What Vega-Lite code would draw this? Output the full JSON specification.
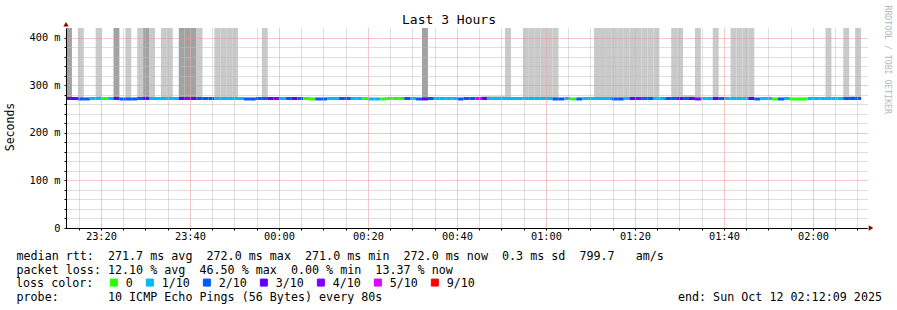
{
"$schema": "https://vega.github.io/schema/vega-lite/v6.json",
"width": 801, "height": 200,
"autosize": {"type": "none"},
"padding": {"left": 66, "top": 28, "right": 30, "bottom": 82},
"background": "#ffffff",
"config": {"view": {"stroke": null}, "font": "DejaVu Sans Mono"},
"datasets": {
"slots": [
{"t":1760224329000,"t2":1760224409000,"med":272,"loss":"3/10"},
{"t":1760224409000,"t2":1760224489000,"med":272,"loss":"3/10"},
{"t":1760224489000,"t2":1760224569000,"med":271,"loss":"2/10"},
{"t":1760224569000,"t2":1760224649000,"med":271,"loss":"2/10"},
{"t":1760224649000,"t2":1760224729000,"med":272,"loss":"1/10"},
{"t":1760224729000,"t2":1760224809000,"med":272,"loss":"1/10"},
{"t":1760224809000,"t2":1760224889000,"med":272,"loss":"0"},
{"t":1760224889000,"t2":1760224969000,"med":272,"loss":"1/10"},
{"t":1760224969000,"t2":1760225049000,"med":272,"loss":"3/10"},
{"t":1760225049000,"t2":1760225129000,"med":271,"loss":"2/10"},
{"t":1760225129000,"t2":1760225209000,"med":271,"loss":"2/10"},
{"t":1760225209000,"t2":1760225289000,"med":271,"loss":"2/10"},
{"t":1760225289000,"t2":1760225369000,"med":272,"loss":"2/10"},
{"t":1760225369000,"t2":1760225449000,"med":272,"loss":"3/10"},
{"t":1760225449000,"t2":1760225529000,"med":272,"loss":"1/10"},
{"t":1760225529000,"t2":1760225609000,"med":272,"loss":"1/10"},
{"t":1760225609000,"t2":1760225689000,"med":272,"loss":"1/10"},
{"t":1760225689000,"t2":1760225769000,"med":272,"loss":"1/10"},
{"t":1760225769000,"t2":1760225849000,"med":272,"loss":"1/10"},
{"t":1760225849000,"t2":1760225929000,"med":272,"loss":"3/10"},
{"t":1760225929000,"t2":1760226009000,"med":272,"loss":"4/10"},
{"t":1760226009000,"t2":1760226089000,"med":272,"loss":"3/10"},
{"t":1760226089000,"t2":1760226169000,"med":272,"loss":"2/10"},
{"t":1760226169000,"t2":1760226249000,"med":272,"loss":"2/10"},
{"t":1760226249000,"t2":1760226329000,"med":272,"loss":"2/10"},
{"t":1760226329000,"t2":1760226409000,"med":272,"loss":"1/10"},
{"t":1760226409000,"t2":1760226489000,"med":272,"loss":"1/10"},
{"t":1760226489000,"t2":1760226569000,"med":272,"loss":"1/10"},
{"t":1760226569000,"t2":1760226649000,"med":272,"loss":"1/10"},
{"t":1760226649000,"t2":1760226729000,"med":272,"loss":"1/10"},
{"t":1760226729000,"t2":1760226809000,"med":271,"loss":"2/10"},
{"t":1760226809000,"t2":1760226889000,"med":271,"loss":"2/10"},
{"t":1760226889000,"t2":1760226969000,"med":272,"loss":"2/10"},
{"t":1760226969000,"t2":1760227049000,"med":272,"loss":"2/10"},
{"t":1760227049000,"t2":1760227129000,"med":272,"loss":"3/10"},
{"t":1760227129000,"t2":1760227209000,"med":272,"loss":"4/10"},
{"t":1760227209000,"t2":1760227289000,"med":272,"loss":"1/10"},
{"t":1760227289000,"t2":1760227369000,"med":272,"loss":"2/10"},
{"t":1760227369000,"t2":1760227449000,"med":272,"loss":"3/10"},
{"t":1760227449000,"t2":1760227529000,"med":272,"loss":"2/10"},
{"t":1760227529000,"t2":1760227609000,"med":272,"loss":"0"},
{"t":1760227609000,"t2":1760227689000,"med":271,"loss":"0"},
{"t":1760227689000,"t2":1760227769000,"med":271,"loss":"2/10"},
{"t":1760227769000,"t2":1760227849000,"med":271,"loss":"2/10"},
{"t":1760227849000,"t2":1760227929000,"med":272,"loss":"1/10"},
{"t":1760227929000,"t2":1760228009000,"med":272,"loss":"1/10"},
{"t":1760228009000,"t2":1760228089000,"med":272,"loss":"2/10"},
{"t":1760228089000,"t2":1760228169000,"med":272,"loss":"2/10"},
{"t":1760228169000,"t2":1760228249000,"med":272,"loss":"1/10"},
{"t":1760228249000,"t2":1760228329000,"med":272,"loss":"1/10"},
{"t":1760228329000,"t2":1760228409000,"med":272,"loss":"0"},
{"t":1760228409000,"t2":1760228489000,"med":271,"loss":"1/10"},
{"t":1760228489000,"t2":1760228569000,"med":271,"loss":"1/10"},
{"t":1760228569000,"t2":1760228649000,"med":271,"loss":"0"},
{"t":1760228649000,"t2":1760228729000,"med":272,"loss":"0"},
{"t":1760228729000,"t2":1760228809000,"med":272,"loss":"0"},
{"t":1760228809000,"t2":1760228889000,"med":272,"loss":"0"},
{"t":1760228889000,"t2":1760228969000,"med":272,"loss":"2/10"},
{"t":1760228969000,"t2":1760229049000,"med":272,"loss":"1/10"},
{"t":1760229049000,"t2":1760229129000,"med":271,"loss":"2/10"},
{"t":1760229129000,"t2":1760229209000,"med":271,"loss":"3/10"},
{"t":1760229209000,"t2":1760229289000,"med":272,"loss":"2/10"},
{"t":1760229289000,"t2":1760229369000,"med":272,"loss":"1/10"},
{"t":1760229369000,"t2":1760229449000,"med":272,"loss":"1/10"},
{"t":1760229449000,"t2":1760229529000,"med":272,"loss":"1/10"},
{"t":1760229529000,"t2":1760229609000,"med":272,"loss":"1/10"},
{"t":1760229609000,"t2":1760229689000,"med":271,"loss":"2/10"},
{"t":1760229689000,"t2":1760229769000,"med":272,"loss":"2/10"},
{"t":1760229769000,"t2":1760229849000,"med":272,"loss":"2/10"},
{"t":1760229849000,"t2":1760229929000,"med":272,"loss":"5/10"},
{"t":1760229929000,"t2":1760230009000,"med":272,"loss":"3/10"},
{"t":1760230009000,"t2":1760230089000,"med":272,"loss":"1/10"},
{"t":1760230089000,"t2":1760230169000,"med":272,"loss":"1/10"},
{"t":1760230169000,"t2":1760230249000,"med":272,"loss":"1/10"},
{"t":1760230249000,"t2":1760230329000,"med":272,"loss":"1/10"},
{"t":1760230329000,"t2":1760230409000,"med":272,"loss":"1/10"},
{"t":1760230409000,"t2":1760230489000,"med":272,"loss":"1/10"},
{"t":1760230489000,"t2":1760230569000,"med":272,"loss":"1/10"},
{"t":1760230569000,"t2":1760230649000,"med":272,"loss":"1/10"},
{"t":1760230649000,"t2":1760230729000,"med":272,"loss":"1/10"},
{"t":1760230729000,"t2":1760230809000,"med":272,"loss":"1/10"},
{"t":1760230809000,"t2":1760230889000,"med":272,"loss":"1/10"},
{"t":1760230889000,"t2":1760230969000,"med":271,"loss":"2/10"},
{"t":1760230969000,"t2":1760231049000,"med":271,"loss":"2/10"},
{"t":1760231049000,"t2":1760231129000,"med":272,"loss":"1/10"},
{"t":1760231129000,"t2":1760231209000,"med":271,"loss":"0"},
{"t":1760231209000,"t2":1760231289000,"med":271,"loss":"2/10"},
{"t":1760231289000,"t2":1760231369000,"med":272,"loss":"1/10"},
{"t":1760231369000,"t2":1760231449000,"med":272,"loss":"1/10"},
{"t":1760231449000,"t2":1760231529000,"med":272,"loss":"1/10"},
{"t":1760231529000,"t2":1760231609000,"med":272,"loss":"1/10"},
{"t":1760231609000,"t2":1760231689000,"med":272,"loss":"1/10"},
{"t":1760231689000,"t2":1760231769000,"med":271,"loss":"2/10"},
{"t":1760231769000,"t2":1760231849000,"med":271,"loss":"2/10"},
{"t":1760231849000,"t2":1760231929000,"med":272,"loss":"1/10"},
{"t":1760231929000,"t2":1760232009000,"med":272,"loss":"3/10"},
{"t":1760232009000,"t2":1760232089000,"med":272,"loss":"4/10"},
{"t":1760232089000,"t2":1760232169000,"med":272,"loss":"2/10"},
{"t":1760232169000,"t2":1760232249000,"med":272,"loss":"2/10"},
{"t":1760232249000,"t2":1760232329000,"med":272,"loss":"1/10"},
{"t":1760232329000,"t2":1760232409000,"med":272,"loss":"1/10"},
{"t":1760232409000,"t2":1760232489000,"med":272,"loss":"2/10"},
{"t":1760232489000,"t2":1760232569000,"med":272,"loss":"2/10"},
{"t":1760232569000,"t2":1760232649000,"med":272,"loss":"3/10"},
{"t":1760232649000,"t2":1760232729000,"med":272,"loss":"2/10"},
{"t":1760232729000,"t2":1760232809000,"med":272,"loss":"3/10"},
{"t":1760232809000,"t2":1760232889000,"med":271,"loss":"4/10"},
{"t":1760232889000,"t2":1760232969000,"med":272,"loss":"1/10"},
{"t":1760232969000,"t2":1760233049000,"med":272,"loss":"1/10"},
{"t":1760233049000,"t2":1760233129000,"med":272,"loss":"3/10"},
{"t":1760233129000,"t2":1760233209000,"med":272,"loss":"2/10"},
{"t":1760233209000,"t2":1760233289000,"med":272,"loss":"1/10"},
{"t":1760233289000,"t2":1760233369000,"med":272,"loss":"1/10"},
{"t":1760233369000,"t2":1760233449000,"med":272,"loss":"1/10"},
{"t":1760233449000,"t2":1760233529000,"med":272,"loss":"1/10"},
{"t":1760233529000,"t2":1760233609000,"med":272,"loss":"3/10"},
{"t":1760233609000,"t2":1760233689000,"med":271,"loss":"2/10"},
{"t":1760233689000,"t2":1760233769000,"med":272,"loss":"1/10"},
{"t":1760233769000,"t2":1760233849000,"med":272,"loss":"1/10"},
{"t":1760233849000,"t2":1760233929000,"med":271,"loss":"0"},
{"t":1760233929000,"t2":1760234009000,"med":271,"loss":"2/10"},
{"t":1760234009000,"t2":1760234089000,"med":272,"loss":"1/10"},
{"t":1760234089000,"t2":1760234169000,"med":271,"loss":"0"},
{"t":1760234169000,"t2":1760234249000,"med":271,"loss":"0"},
{"t":1760234249000,"t2":1760234329000,"med":271,"loss":"0"},
{"t":1760234329000,"t2":1760234409000,"med":272,"loss":"1/10"},
{"t":1760234409000,"t2":1760234489000,"med":272,"loss":"1/10"},
{"t":1760234489000,"t2":1760234569000,"med":272,"loss":"1/10"},
{"t":1760234569000,"t2":1760234649000,"med":272,"loss":"1/10"},
{"t":1760234649000,"t2":1760234729000,"med":272,"loss":"1/10"},
{"t":1760234729000,"t2":1760234809000,"med":272,"loss":"1/10"},
{"t":1760234809000,"t2":1760234889000,"med":272,"loss":"2/10"},
{"t":1760234889000,"t2":1760234969000,"med":272,"loss":"2/10"},
{"t":1760234969000,"t2":1760235049000,"med":272,"loss":"2/10"}
],
"smoke": [
{"t":1760224329000,"t2":1760224409000,"lo":270,"hi":450,"shade":"dark"},
{"t":1760224489000,"t2":1760224569000,"lo":270,"hi":450,"shade":"light"},
{"t":1760224729000,"t2":1760224809000,"lo":270,"hi":450,"shade":"light"},
{"t":1760224969000,"t2":1760225049000,"lo":270,"hi":450,"shade":"dark"},
{"t":1760225129000,"t2":1760225209000,"lo":270,"hi":450,"shade":"light"},
{"t":1760225289000,"t2":1760225369000,"lo":270,"hi":450,"shade":"light"},
{"t":1760225369000,"t2":1760225449000,"lo":270,"hi":450,"shade":"dark"},
{"t":1760225449000,"t2":1760225529000,"lo":270,"hi":450,"shade":"light"},
{"t":1760225609000,"t2":1760225689000,"lo":270,"hi":450,"shade":"light"},
{"t":1760225689000,"t2":1760225769000,"lo":270,"hi":450,"shade":"light"},
{"t":1760225849000,"t2":1760225929000,"lo":270,"hi":450,"shade":"dark"},
{"t":1760225929000,"t2":1760226009000,"lo":270,"hi":450,"shade":"dark"},
{"t":1760226009000,"t2":1760226089000,"lo":270,"hi":450,"shade":"dark"},
{"t":1760226089000,"t2":1760226169000,"lo":270,"hi":450,"shade":"light"},
{"t":1760226329000,"t2":1760226409000,"lo":270,"hi":450,"shade":"light"},
{"t":1760226409000,"t2":1760226489000,"lo":270,"hi":450,"shade":"light"},
{"t":1760226489000,"t2":1760226569000,"lo":270,"hi":450,"shade":"light"},
{"t":1760226569000,"t2":1760226649000,"lo":270,"hi":450,"shade":"light"},
{"t":1760226969000,"t2":1760227049000,"lo":270,"hi":450,"shade":"light"},
{"t":1760229129000,"t2":1760229209000,"lo":270,"hi":450,"shade":"dark"},
{"t":1760229929000,"t2":1760230009000,"lo":270,"hi":277,"shade":"light"},
{"t":1760230009000,"t2":1760230089000,"lo":270,"hi":277,"shade":"light"},
{"t":1760230089000,"t2":1760230169000,"lo":270,"hi":277,"shade":"light"},
{"t":1760230169000,"t2":1760230249000,"lo":270,"hi":277,"shade":"light"},
{"t":1760230249000,"t2":1760230329000,"lo":270,"hi":450,"shade":"light"},
{"t":1760230489000,"t2":1760230569000,"lo":270,"hi":450,"shade":"light"},
{"t":1760230569000,"t2":1760230649000,"lo":270,"hi":450,"shade":"light"},
{"t":1760230649000,"t2":1760230729000,"lo":270,"hi":450,"shade":"light"},
{"t":1760230729000,"t2":1760230809000,"lo":270,"hi":450,"shade":"light"},
{"t":1760230809000,"t2":1760230889000,"lo":270,"hi":450,"shade":"light"},
{"t":1760230889000,"t2":1760230969000,"lo":270,"hi":450,"shade":"light"},
{"t":1760231449000,"t2":1760231529000,"lo":270,"hi":450,"shade":"light"},
{"t":1760231529000,"t2":1760231609000,"lo":270,"hi":450,"shade":"light"},
{"t":1760231609000,"t2":1760231689000,"lo":270,"hi":450,"shade":"light"},
{"t":1760231689000,"t2":1760231769000,"lo":270,"hi":450,"shade":"light"},
{"t":1760231769000,"t2":1760231849000,"lo":270,"hi":450,"shade":"light"},
{"t":1760231849000,"t2":1760231929000,"lo":270,"hi":450,"shade":"light"},
{"t":1760231929000,"t2":1760232009000,"lo":270,"hi":450,"shade":"light"},
{"t":1760232009000,"t2":1760232089000,"lo":270,"hi":450,"shade":"light"},
{"t":1760232089000,"t2":1760232169000,"lo":270,"hi":450,"shade":"light"},
{"t":1760232169000,"t2":1760232249000,"lo":270,"hi":450,"shade":"light"},
{"t":1760232249000,"t2":1760232329000,"lo":270,"hi":450,"shade":"light"},
{"t":1760232489000,"t2":1760232569000,"lo":270,"hi":450,"shade":"light"},
{"t":1760232569000,"t2":1760232649000,"lo":270,"hi":450,"shade":"light"},
{"t":1760232649000,"t2":1760232729000,"lo":270,"hi":279,"shade":"light"},
{"t":1760232729000,"t2":1760232809000,"lo":270,"hi":279,"shade":"light"},
{"t":1760232809000,"t2":1760232889000,"lo":270,"hi":450,"shade":"light"},
{"t":1760233049000,"t2":1760233129000,"lo":270,"hi":450,"shade":"light"},
{"t":1760233289000,"t2":1760233369000,"lo":270,"hi":450,"shade":"light"},
{"t":1760233369000,"t2":1760233449000,"lo":270,"hi":450,"shade":"light"},
{"t":1760233449000,"t2":1760233529000,"lo":270,"hi":450,"shade":"light"},
{"t":1760233529000,"t2":1760233609000,"lo":270,"hi":450,"shade":"light"},
{"t":1760234569000,"t2":1760234649000,"lo":270,"hi":450,"shade":"light"},
{"t":1760234809000,"t2":1760234889000,"lo":270,"hi":450,"shade":"light"},
{"t":1760234889000,"t2":1760234969000,"lo":270,"hi":277,"shade":"light"},
{"t":1760234969000,"t2":1760235049000,"lo":270,"hi":450,"shade":"light"}
]
},
"layer": [
{
"data": {"name": "smoke"},
"mark": {"type": "rect", "clip": true},
"encoding": {
"x": {"field": "t", "type": "temporal",
"scale": {"type": "utc", "domain": [1760224329000, 1760235129000], "nice": false},
"axis": {
"values": [1760224500000,1760224800000,1760225100000,1760225400000,1760225700000,1760226000000,1760226300000,1760226600000,1760226900000,1760227200000,1760227500000,1760227800000,1760228100000,1760228400000,1760228700000,1760229000000,1760229300000,1760229600000,1760229900000,1760230200000,1760230500000,1760230800000,1760231100000,1760231400000,1760231700000,1760232000000,1760232300000,1760232600000,1760232900000,1760233200000,1760233500000,1760233800000,1760234100000,1760234400000,1760234700000,1760235000000],
"labelExpr": "utcminutes(datum.value) % 20 == 0 ? utcFormat(datum.value, '%H:%M') : ''",
"labelFont": "DejaVu Sans Mono", "labelFontSize": 10.3, "labelColor": "#000000",
"labelPadding": 1.5, "labelFlush": false, "labelOverlap": false, "labelBound": false,
"tickSize": 2, "tickColor": "#000000", "domainColor": "#000000", "domainWidth": 1,
"grid": true,
"gridColor": {"condition": {"test": "utcminutes(datum.value) % 20 == 0", "value": "#ee9090"}, "value": "#bdbdbd"},
"gridDash": [1, 1], "gridWidth": 1,
"zindex": 1,
"title": [
"median rtt:\u00a0\u00a0271.7 ms avg\u00a0\u00a0272.0 ms max\u00a0\u00a0271.0 ms min\u00a0\u00a0272.0 ms now\u00a0\u00a00.3 ms sd\u00a0\u00a0799.7\u00a0\u00a0\u00a0am/s",
"packet loss: 12.10 % avg\u00a0\u00a046.50 % max\u00a0\u00a00.00 % min\u00a0\u00a013.37 % now"
],
"titleFont": "DejaVu Sans Mono", "titleFontSize": 11.7, "titleFontWeight": "normal", "titleColor": "#000000",
"titleAlign": "left", "titleAnchor": "start", "titleX": -50, "titleY": 31.8,
"titleBaseline": "alphabetic", "titleLineHeight": 13.4, "titleAngle": 0
}
},
"x2": {"field": "t2"},
"y": {"field": "lo", "type": "quantitative",
"scale": {"domain": [0, 420], "nice": false},
"axis": {
"values": [0,20,40,60,80,100,120,140,160,180,200,220,240,260,280,300,320,340,360,380,400],
"labelExpr": "datum.value == 0 ? '0' : (datum.value % 100 == 0 ? datum.value + ' m' : '')",
"labelFont": "DejaVu Sans Mono", "labelFontSize": 10.3, "labelColor": "#000000",
"labelPadding": 4, "labelOverlap": false, "labelBound": false, "labelFlush": false,
"tickSize": 2, "tickColor": "#000000", "domainColor": "#000000", "domainWidth": 1,
"grid": true,
"gridColor": {"condition": [{"test": "datum.value == 0", "value": "#000000"}, {"test": "datum.value % 100 == 0", "value": "#ee9090"}], "value": "#bdbdbd"},
"gridDash": [1, 1], "gridWidth": 1,
"zindex": 1,
"title": "Seconds",
"titleFont": "DejaVu Sans Mono", "titleFontSize": 11.5, "titleFontWeight": "normal", "titleColor": "#000000",
"titleAngle": -90, "titleX": -55.5, "titleY": 98.5, "titleAlign": "center", "titleBaseline": "middle"
}
},
"y2": {"field": "hi"},
"fill": {"field": "shade", "type": "nominal",
"scale": {"domain": ["light", "dark"], "range": ["#cacaca", "#a2a2a2"]},
"legend": null}
}
},
{
"data": {"name": "slots"},
"mark": {"type": "rule", "strokeWidth": 3, "strokeCap": "butt"},
"encoding": {
"x": {"field": "t", "type": "temporal", "axis": null},
"x2": {"field": "t2"},
"y": {"field": "med", "type": "quantitative", "axis": null},
"stroke": {"field": "loss", "type": "nominal",
"scale": {"domain": ["0", "1/10", "2/10", "3/10", "4/10", "5/10", "9/10"],
"range": ["#26ff00", "#00b8ff", "#0059ff", "#5e00ff", "#7e00ff", "#dd00ff", "#ff0000"]},
"legend": {
"orient": "none", "legendX": -50, "legendY": 248.5,
"direction": "horizontal", "columns": 7,
"title": "loss color:", "titleOrient": "left", "titlePadding": 14,
"titleFont": "DejaVu Sans Mono", "titleFontSize": 11.7, "titleFontWeight": "normal", "titleColor": "#000000",
"labelFont": "DejaVu Sans Mono", "labelFontSize": 11.7, "labelColor": "#000000", "labelOffset": 6,
"symbolType": "square", "symbolSize": 49, "symbolStrokeWidth": 1, "symbolStrokeColor": "#000000",
"columnPadding": 11, "padding": 0, "offset": 0,
"encode": {"symbols": {"update": {
"fill": {"scale": "stroke", "field": "value"},
"stroke": {"value": "#000000"}, "strokeWidth": {"value": 1}, "opacity": {"value": 1}, "fillOpacity": {"value": 1}}}}
}
}
}
},
{
"data": {"values": [{}]},
"mark": {"type": "point", "shape": "triangle-up", "filled": true, "color": "#7f0000", "size": 28, "opacity": 1, "clip": false, "strokeWidth": 0},
"encoding": {
"x": {"datum": {"year": 2025, "month": 10, "date": 11, "hours": 23, "minutes": 12, "seconds": 9, "utc": true}, "type": "temporal",
"axis": {"orient": "top", "labels": false, "ticks": false, "domain": false, "grid": false,
"title": "Last 3 Hours", "titleFont": "DejaVu Sans Mono", "titleFontSize": 13, "titleFontWeight": "normal", "titleColor": "#000000",
"titleX": 382.5, "titleY": -4.5, "titleAlign": "center", "titleBaseline": "alphabetic", "titleAngle": 0}},
"y": {"datum": 428, "type": "quantitative",
"axis": {"orient": "right", "labels": false, "ticks": false, "domain": false, "grid": false,
"title": "RRDTOOL / TOBI OETIKER", "titleFont": "DejaVu Sans Mono", "titleFontSize": 8.2, "titleFontWeight": "normal", "titleColor": "#b8b8b8",
"titleAngle": 90, "titleX": 19, "titleY": -23, "titleAlign": "left", "titleBaseline": "middle"}}
}
},
{
"data": {"values": [{}]},
"mark": {"type": "point", "shape": "triangle-right", "filled": true, "color": "#7f0000", "size": 28, "opacity": 1, "clip": false, "strokeWidth": 0},
"encoding": {
"x": {"datum": {"year": 2025, "month": 10, "date": 12, "hours": 2, "minutes": 13, "seconds": 3, "utc": true}, "type": "temporal",
"axis": {"orient": "bottom", "labels": false, "ticks": false, "domain": false, "grid": false,
"title": "probe:\u00a0\u00a0\u00a0\u00a0\u00a0\u00a0\u00a010 ICMP Echo Pings (56 Bytes) every 80s\u00a0\u00a0\u00a0\u00a0\u00a0\u00a0\u00a0\u00a0\u00a0\u00a0\u00a0\u00a0\u00a0\u00a0\u00a0\u00a0\u00a0\u00a0\u00a0\u00a0\u00a0\u00a0\u00a0\u00a0\u00a0\u00a0\u00a0\u00a0\u00a0\u00a0\u00a0\u00a0\u00a0\u00a0\u00a0\u00a0\u00a0\u00a0\u00a0\u00a0\u00a0\u00a0end: Sun Oct 12 02:12:09 2025",
"titleFont": "DejaVu Sans Mono", "titleFontSize": 11.7, "titleFontWeight": "normal", "titleColor": "#000000",
"titleAlign": "left", "titleAnchor": "start", "titleX": -50, "titleY": 72, "titleBaseline": "alphabetic", "titleAngle": 0}},
"y": {"datum": 0, "type": "quantitative", "axis": null}
}
}
],
"resolve": {"axis": {"x": "independent", "y": "independent"}}
}
